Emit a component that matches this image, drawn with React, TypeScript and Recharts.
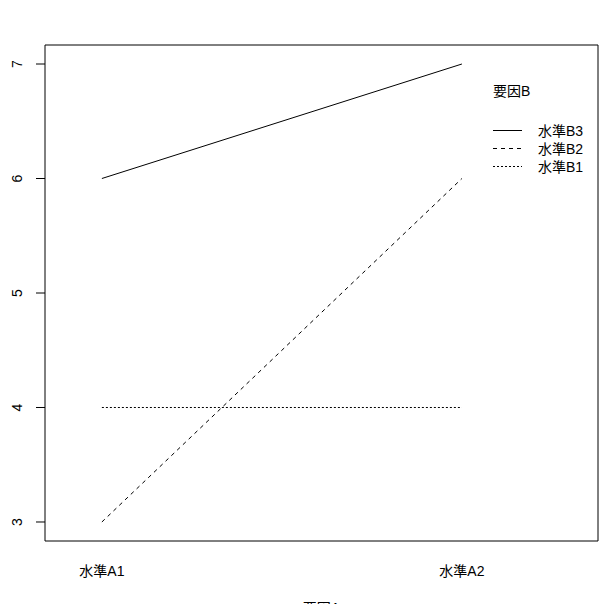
import React from 'react';
import { LineChart, Line, XAxis, YAxis, ReferenceArea } from 'recharts';

// factor A levels (x axis) and mean response for each level of factor B
const levelsA = ['水準A1', '水準A2'];
const levelB3 = [6, 7];
const levelB2 = [3, 6];
const levelB1 = [4, 4];
const yTicks = [3, 4, 5, 6, 7];

const series = [
  { key: 'B3', name: '水準B3', dash: undefined as string | undefined },
  { key: 'B2', name: '水準B2', dash: '4 4' },
  { key: 'B1', name: '水準B1', dash: '2 2' },
];

const data = levelsA.map((name, i) => ({
  x: i + 1,
  name,
  B3: levelB3[i],
  B2: levelB2[i],
  B1: levelB1[i],
}));

const X_MIN = 0.842;
const X_MAX = 2.378;
const Y_MIN = 2.834;
const Y_MAX = 7.166;

const FONT = '"Liberation Sans", Arial, "Noto Sans CJK JP", sans-serif';

const YTick = (props: any) => {
  const { y, payload } = props;
  return (
    <text
      x={22}
      y={y}
      transform={`rotate(-90 22 ${y})`}
      textAnchor="middle"
      fontSize={14}
      fontFamily={FONT}
      fill="#000"
    >
      {payload.value}
    </text>
  );
};

const XTick = (props: any) => {
  const { x, payload } = props;
  return (
    <text x={x} y={576} textAnchor="middle" fontSize={14} fontFamily={FONT} fill="#000">
      {levelsA[payload.value - 1]}
    </text>
  );
};

// legend drawn on top of the chart, like R's interaction.plot
const LegendBox = () => (
  <svg
    width={110}
    height={110}
    style={{ position: 'absolute', left: 485, top: 75, overflow: 'visible' }}
  >
    <text x={8} y={21} fontSize={14} fontFamily={FONT} fill="#000">要因B</text>
    {series.map((s, i) => (
      <g key={s.key}>
        <line
          x1={8}
          x2={37}
          y1={55.5 + i * 18}
          y2={55.5 + i * 18}
          stroke="#000"
          strokeWidth={1}
          strokeDasharray={s.dash}
        />
        <text x={53} y={61 + i * 18} fontSize={14} fontFamily={FONT} fill="#000">
          {s.name}
        </text>
      </g>
    ))}
  </svg>
);

export default function App() {
  return (
    <div style={{ position: 'absolute', left: 0, top: 0, width: 604, height: 604, background: '#fff' }}>
      <LineChart
        width={604}
        height={604}
        data={data}
        margin={{ top: 45, right: 6, left: 0, bottom: 0 }}
      >
        <XAxis
          dataKey="x"
          type="number"
          domain={[X_MIN, X_MAX]}
          ticks={[1, 2]}
          allowDataOverflow
          axisLine={false}
          tickLine={false}
          height={63}
          tick={<XTick />}
          label={{
            value: '要因A',
            position: 'bottom',
            offset: -1,
            fontSize: 14,
            fontFamily: FONT,
            fill: '#000',
          }}
        />
        <YAxis
          type="number"
          domain={[Y_MIN, Y_MAX]}
          ticks={yTicks}
          allowDataOverflow
          width={45}
          axisLine={false}
          tickLine={{ stroke: '#000' }}
          tickSize={9}
          tick={<YTick />}
        />
        <ReferenceArea
          x1={X_MIN}
          x2={X_MAX}
          y1={Y_MIN}
          y2={Y_MAX}
          fill="none"
          fillOpacity={0}
          stroke="#000"
          strokeWidth={1}
          ifOverflow="visible"
        />
        {series.map((s) => (
          <Line
            key={s.key}
            dataKey={s.key}
            name={s.name}
            stroke="#000"
            strokeWidth={1}
            strokeDasharray={s.dash}
            dot={false}
            activeDot={false}
            isAnimationActive={false}
          />
        ))}
      </LineChart>
      <LegendBox />
    </div>
  );
}
